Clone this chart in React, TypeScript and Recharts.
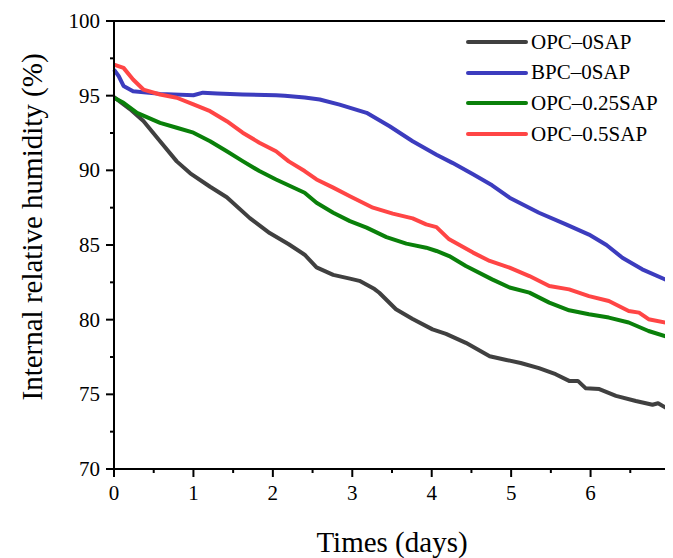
import { Legend, Line, LineChart, ReferenceLine, XAxis, YAxis } from "recharts"

// tick positions (minor ticks at halves / 2.5 steps)
const dayTicks = [0, 0.5, 1, 1.5, 2, 2.5, 3, 3.5, 4, 4.5, 5, 5.5, 6, 6.5, 7]
const rhTicks = [70, 72.5, 75, 77.5, 80, 82.5, 85, 87.5, 90, 92.5, 95, 97.5, 100]

// OPC–0SAP
const opc0Days = [0, 0.2, 0.37, 0.58, 0.79, 0.96, 1.21, 1.42, 1.71, 1.96, 2.2, 2.4, 2.55, 2.76, 2.97, 3.09, 3.28, 3.34, 3.55, 3.76, 4.01, 4.18, 4.43, 4.73, 4.94, 5.12, 5.35, 5.56, 5.73, 5.84, 5.94, 6.11, 6.32, 6.57, 6.78, 6.85, 7]
const opc0Rh = [94.9, 94.1, 93.3, 91.95, 90.6, 89.8, 88.9, 88.2, 86.8, 85.8, 85.05, 84.35, 83.5, 83.0, 82.75, 82.6, 82.05, 81.8, 80.7, 80.05, 79.35, 79.05, 78.45, 77.55, 77.3, 77.1, 76.75, 76.35, 75.9, 75.9, 75.4, 75.35, 74.9, 74.55, 74.3, 74.4, 73.95]

// BPC–0SAP
const bpc0Days = [0, 0.06, 0.12, 0.24, 0.58, 1.0, 1.12, 1.3, 1.62, 2.04, 2.15, 2.4, 2.59, 2.84, 3.18, 3.47, 3.76, 4.06, 4.26, 4.52, 4.76, 4.98, 5.35, 5.69, 5.98, 6.2, 6.4, 6.65, 7]
const bpc0Rh = [96.75, 96.3, 95.65, 95.3, 95.12, 95.03, 95.2, 95.15, 95.08, 95.03, 95.0, 94.88, 94.74, 94.4, 93.85, 92.95, 91.95, 91.05, 90.5, 89.73, 89.0, 88.17, 87.16, 86.38, 85.7, 85.0, 84.15, 83.37, 82.55]

// OPC–0.25SAP
const opc25Days = [0, 0.12, 0.29, 0.58, 0.79, 1.0, 1.21, 1.42, 1.62, 1.83, 2.04, 2.4, 2.55, 2.76, 2.97, 3.18, 3.43, 3.68, 3.93, 4.06, 4.22, 4.43, 4.76, 4.98, 5.23, 5.48, 5.73, 5.98, 6.23, 6.48, 6.73, 7]
const opc25Rh = [94.86, 94.52, 93.85, 93.18, 92.85, 92.52, 91.95, 91.28, 90.62, 89.95, 89.39, 88.5, 87.83, 87.16, 86.6, 86.16, 85.53, 85.09, 84.82, 84.6, 84.26, 83.59, 82.7, 82.15, 81.81, 81.14, 80.63, 80.36, 80.14, 79.81, 79.24, 78.8]

// OPC–0.5SAP
const opc50Days = [0, 0.12, 0.24, 0.37, 0.58, 0.79, 1.0, 1.21, 1.42, 1.62, 1.83, 2.04, 2.2, 2.4, 2.55, 2.76, 2.97, 3.26, 3.51, 3.76, 3.93, 4.06, 4.22, 4.52, 4.73, 4.98, 5.23, 5.48, 5.73, 5.98, 6.23, 6.48, 6.61, 6.73, 7]
const opc50Rh = [97.08, 96.86, 96.08, 95.41, 95.08, 94.86, 94.41, 93.96, 93.29, 92.52, 91.85, 91.28, 90.6, 89.95, 89.39, 88.84, 88.27, 87.5, 87.1, 86.78, 86.38, 86.2, 85.38, 84.49, 83.93, 83.48, 82.92, 82.25, 82.03, 81.58, 81.25, 80.58, 80.47, 80.03, 79.75]

const series = [
  { name: "OPC–0SAP", color: "#404040", days: opc0Days, rh: opc0Rh },
  { name: "BPC–0SAP", color: "#3c3cbe", days: bpc0Days, rh: bpc0Rh },
  { name: "OPC–0.25SAP", color: "#0a800a", days: opc25Days, rh: opc25Rh },
  { name: "OPC–0.5SAP", color: "#ff4545", days: opc50Days, rh: opc50Rh },
]

const font = "'Liberation Serif', 'Times New Roman', serif"

function YTick(props: any) {
  const { x, y, payload } = props
  const axisX = x + 12
  const major = payload.value % 5 === 0
  return (
    <g>
      <line x1={axisX} x2={axisX - (major ? 8 : 4)} y1={y} y2={y} stroke="#000" strokeWidth={2} />
      {major && (
        <text x={axisX - 14} y={y} dy="0.34em" textAnchor="end" fontSize={21} fill="#000" fontFamily={font}>
          {payload.value}
        </text>
      )}
    </g>
  )
}

function XTick(props: any) {
  const { x, y, payload } = props
  const axisY = y - 12
  const major = Number.isInteger(payload.value)
  return (
    <g>
      <line x1={x} x2={x} y1={axisY} y2={axisY + (major ? 8 : 4)} stroke="#000" strokeWidth={2} />
      {major && (
        <text x={x} y={axisY + 31} textAnchor="middle" fontSize={21} fill="#000" fontFamily={font}>
          {payload.value}
        </text>
      )}
    </g>
  )
}

// axis titles ignore the props recharts passes and sit at fixed spots
function XTitle() {
  return (
    <text x={384} y={544} textAnchor="middle" fontSize={29} fill="#000" fontFamily={font}>
      Times (days)
    </text>
  )
}

function YTitle() {
  return (
    <text x={34} y={219} transform="rotate(-90 34 219)" textAnchor="middle" fontSize={29} fill="#000" fontFamily={font}>
      Internal relative humidity (%)
    </text>
  )
}

function LegendBox() {
  return (
    <div style={{ fontFamily: font, fontSize: 21, color: "#000" }}>
      {series.map((s) => (
        <div key={s.name} style={{ display: "flex", alignItems: "center", height: 30.6 }}>
          <svg width={64} height={8} style={{ marginRight: 1 }}>
            <line x1={2} x2={60} y1={4} y2={4} stroke={s.color} strokeWidth={4} strokeLinecap="round" />
          </svg>
          <span style={{ lineHeight: 1 }}>{s.name}</span>
        </div>
      ))}
    </div>
  )
}

export default function App() {
  return (
    <div style={{ fontFamily: font }}>
      <LineChart width={665} height={550} margin={{ top: 13, right: 3, left: 0, bottom: 0 }}>
        <XAxis
          dataKey="t"
          type="number"
          domain={[0, 7]}
          ticks={dayTicks}
          interval={0}
          height={89}
          tickSize={8}
          tickMargin={4}
          tickLine={false}
          axisLine={{ stroke: "#000", strokeWidth: 2 }}
          tick={<XTick />}
          label={<XTitle />}
        />
        <YAxis
          type="number"
          domain={[70, 100]}
          ticks={rhTicks}
          interval={0}
          width={106}
          tickSize={8}
          tickMargin={4}
          tickLine={false}
          axisLine={{ stroke: "#000", strokeWidth: 2 }}
          tick={<YTick />}
          label={<YTitle />}
        />
        <ReferenceLine y={100} stroke="#000" strokeWidth={2} />
        <ReferenceLine x={7} stroke="#000" strokeWidth={2} />
        {series.map((s) => (
          <Line
            key={s.name}
            name={s.name}
            data={s.days.map((t, i) => ({ t, rh: s.rh[i] }))}
            dataKey="rh"
            type="linear"
            stroke={s.color}
            strokeWidth={4}
            strokeLinejoin="round"
            dot={false}
            activeDot={false}
            isAnimationActive={false}
          />
        ))}
        <Legend
          layout="vertical"
          align="center"
          verticalAlign="middle"
          content={<LegendBox />}
          wrapperStyle={{ position: "absolute", left: 458, top: 19, width: "auto" }}
        />
      </LineChart>
    </div>
  )
}
